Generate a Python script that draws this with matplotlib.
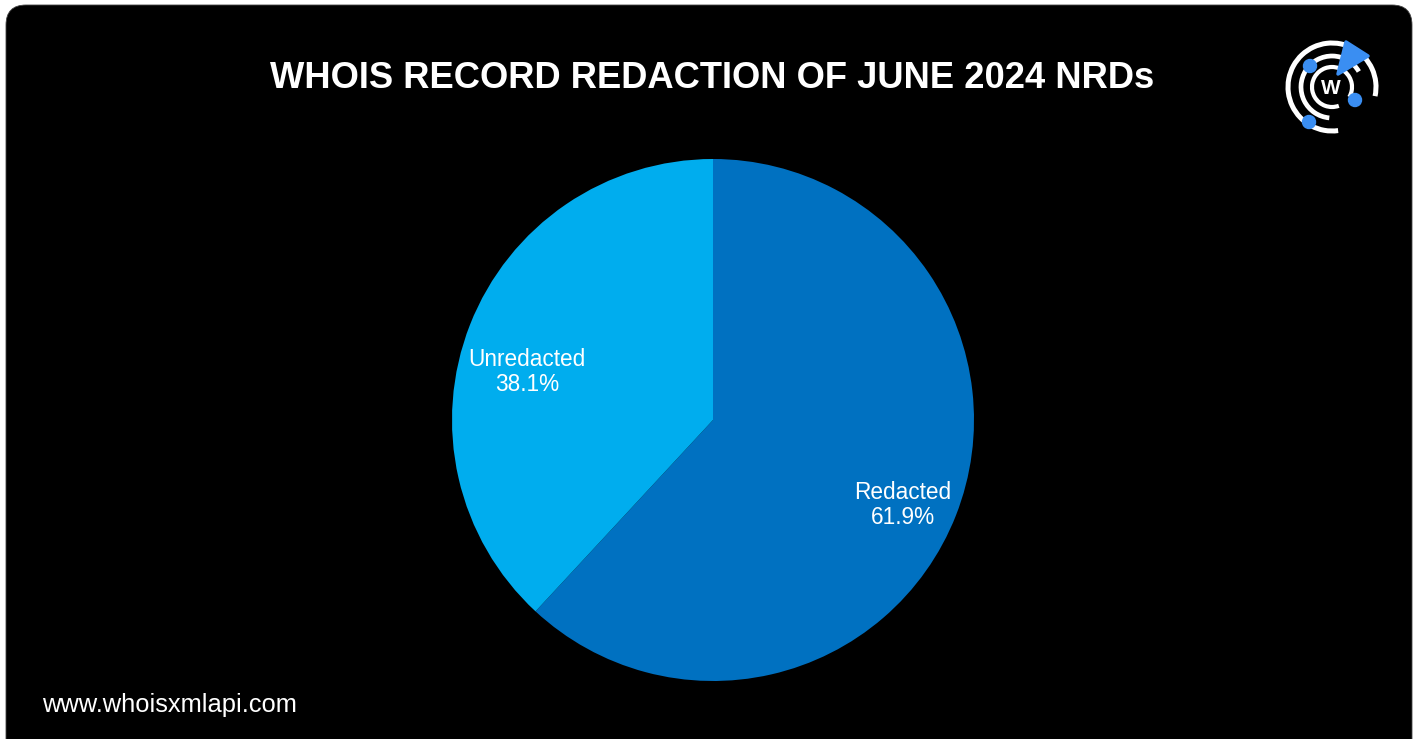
import matplotlib
matplotlib.use("Agg")
import matplotlib.pyplot as plt
from matplotlib.patches import FancyBboxPatch, Arc, Circle, Polygon

# ---- data ----
categories = ["Redacted", "Unredacted"]
shares = [61.9, 38.1]
colors = ["#0071C1", "#00ADEE"]
title = "WHOIS RECORD REDACTION OF JUNE 2024 NRDs"
footer = "www.whoisxmlapi.com"

W, H = 1417, 739
fig = plt.figure(figsize=(W / 100, H / 100), dpi=100)
fig.patch.set_facecolor("white")

# background canvas in pixel coords
bg = fig.add_axes([0, 0, 1, 1])
bg.set_xlim(0, W)
bg.set_ylim(H, 0)
bg.axis("off")
bg.add_patch(FancyBboxPatch((6 + 20, 5 + 20), 1406 - 40, 760 - 40,
                            boxstyle="round,pad=20", fc="black", ec="#444444", lw=0.6))

bg.text(712, 78, title, color="white", fontsize=26.2, fontweight="bold",
        family="Liberation Sans", ha="center", va="center")
bg.text(42, 705, footer, color="white", fontsize=18.4, family="Liberation Sans",
        ha="left", va="center")

# logo
cx, cy = 1332, 87
bg.add_patch(Arc((cx, cy), 88, 88, theta1=82, theta2=372, color="white", lw=3.6))
bg.add_patch(Arc((cx, cy), 62, 62, theta1=95, theta2=330, color="white", lw=3.4))
bg.add_patch(Arc((cx, cy), 40, 40, theta1=70, theta2=390, color="white", lw=3.0))
bg.text(cx - 1, cy + 1, "W", color="white", fontsize=15, fontweight="bold",
        family="Liberation Sans", ha="center", va="center")
blue = "#3A8EF2"
for (px, py) in [(1310, 66), (1355, 100), (1309, 122)]:
    bg.add_patch(Circle((px, py), 6.5, color=blue))
bg.add_patch(Polygon([(1346, 42), (1368, 56), (1338, 74)], closed=True,
                     fc=blue, ec=blue, lw=2.5, joinstyle="round"))

# pie
pcx, pcy, r = 713, 420, 261
ax = fig.add_axes([(pcx - r) / W, (H - pcy - r) / H, 2 * r / W, 2 * r / H])
ax.set_facecolor("none")
labels = [f"{c}\n{v}%" for c, v in zip(categories, shares)]
wedges, texts = ax.pie(shares, labels=labels, colors=colors, startangle=90,
                       counterclock=False, labeldistance=0.76, radius=1,
                       wedgeprops=dict(linewidth=0),
                       textprops=dict(color="white", fontsize=16.3,
                                      family="Liberation Sans"))
label_pos = [(0.728, -0.326), (-0.713, 0.184)]
for t, p in zip(texts, label_pos):
    t.set_position(p)
    t.set_ha("center")
    t.set_va("center")
    t.set_linespacing(1.15)
ax.set_xlim(-1, 1)
ax.set_ylim(-1, 1)
ax.set_aspect("equal")
ax.axis("off")

fig.savefig("out.png", dpi=100, facecolor="white")
